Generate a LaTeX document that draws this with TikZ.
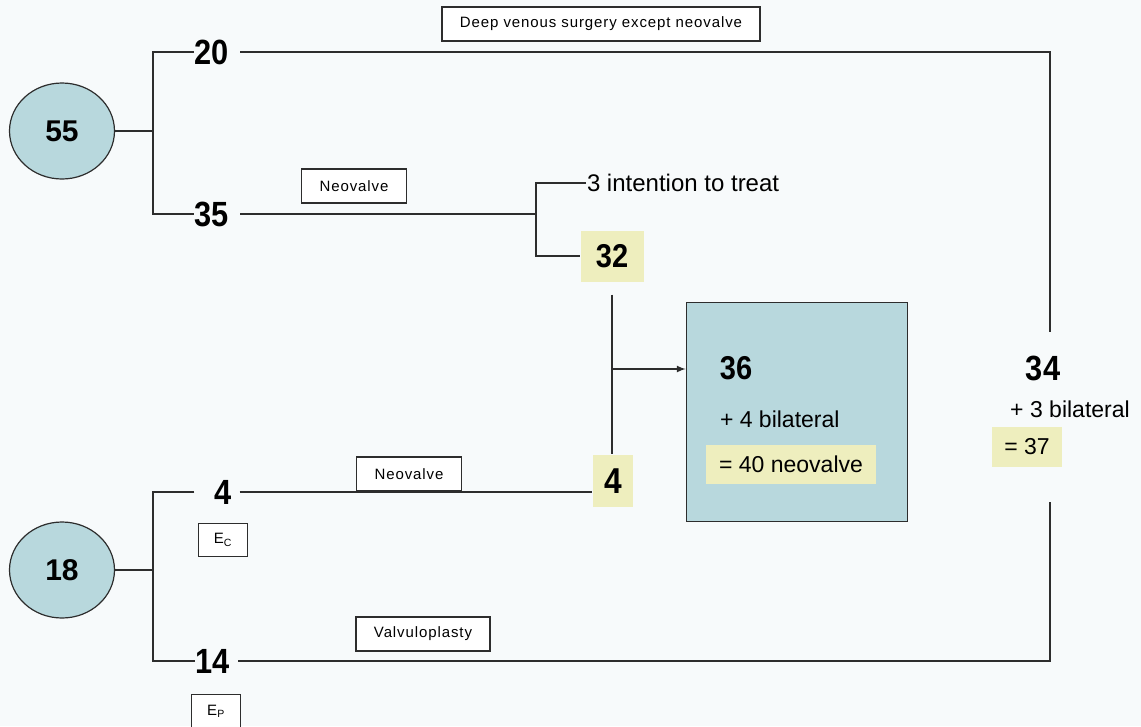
\documentclass[tikz,border=0pt]{standalone}
\usepackage{fontspec}
\setmainfont{Liberation Sans}
\newfontfamily\narrowfont[FakeStretch=0.88]{Liberation Sans}
\newfontfamily\labelfont[LetterSpace=6]{Liberation Sans}
\usepackage{xcolor}
\usetikzlibrary{positioning, arrows.meta, shapes.geometric}

\definecolor{bgwhite}{RGB}{247,250,251}
\definecolor{groupblue}{RGB}{184,216,221}
\definecolor{markyellow}{RGB}{238,238,190}
\definecolor{edgegray}{RGB}{45,45,45}

\tikzset{
  num/.style={inner sep=0pt, font=\narrowfont\bfseries\fontsize{35}{40}\selectfont},
  group/.style={ellipse, draw=edgegray, line width=1.2pt, fill=groupblue,
    minimum width=105pt, minimum height=96pt, inner sep=0pt,
    font=\bfseries\fontsize{30}{36}\selectfont},
  lbl/.style={draw=edgegray, line width=1.3pt, fill=white, inner xsep=18pt,
    minimum height=34pt, inner ysep=0pt, font=\labelfont\fontsize{15}{18}\selectfont},
  hilite/.style={fill=markyellow, inner sep=0pt},
  txt/.style={inner sep=0pt, font=\fontsize{23}{28}\selectfont},
}

\begin{document}
\begin{tikzpicture}[x=1pt, y=-1pt, >=latex, line width=2pt, draw=edgegray]
  % Background
  \fill[bgwhite] (0,0) rectangle (1141,726);
  \useasboundingbox (0,0) rectangle (1141,726);
  % Groups
  \node[group] (c55) at (62,131) {55};
  \node[group] (c18) at (62,570) {18};
  \coordinate (j1) at (153,131);
  \coordinate (j2) at (153,570);
  % Branch numbers
  \node[num] (n20) at (212,52) {20};
  \node[num] (n35) at (212,214) {35};
  \node[num] (n4) at (223,492) {4};
  \node[num] (n14) at (213,661) {14};
  % Labels on the branches
  \node[lbl] (deep) at (601,24) {Deep venous surgery except neovalve};
  \node[lbl] (neo1) at (354,186) {Neovalve};
  \node[lbl] (neo2) at (409,474) {Neovalve};
  \node[lbl] (valvo) at (423,634) {Valvuloplasty};
  \node[lbl, inner xsep=0pt, minimum width=49pt, minimum height=33pt] (ec) at (223,540) {E\textsubscript{C}};
  \node[lbl, inner xsep=0pt, minimum width=49pt, minimum height=33pt] (ep) at (216,711) {E\textsubscript{P}};
  % Neovalve arm
  \coordinate (fork) at (536,214);
  \node[txt, anchor=west, font=\fontsize{24}{28}\selectfont] (itt) at (586,183) {3 intention to treat};
  \node[hilite, minimum width=63pt, minimum height=51pt, font=\narrowfont\bfseries\fontsize{33}{40}\selectfont] (n32) at (612,256) {32};
  \node[hilite, minimum width=40pt, minimum height=52pt, font=\narrowfont\bfseries\fontsize{36}{40}\selectfont] (n4b) at (613,481) {4};
  % Result box
  \node[draw=edgegray, fill=groupblue, line width=1.6pt, minimum width=221pt, minimum height=219pt] (n36) at (797,412) {};
  \node[num, font=\narrowfont\bfseries\fontsize{33}{40}\selectfont] (t36) at (736,368) {36};
  \node[txt, anchor=west] (bil4) at (719,419) {+ 4 bilateral};
  \node[hilite, minimum width=170pt, minimum height=39pt, font=\fontsize{23}{28}\selectfont] (eq40) at (791,464) {= 40 neovalve};
  % Right column
  \node[num, font=\narrowfont\bfseries\fontsize{35}{40}\selectfont] (n34) at (1043,368) {34};
  \node[txt] (bil3) at (1070,409) {+ 3 bilateral};
  \node[hilite, minimum width=70pt, minimum height=40pt, font=\fontsize{23}{28}\selectfont] (eq37) at (1027,447) {= 37};
  \coordinate (tr) at (1050,52);
  \coordinate (rt) at (1050,332);
  \coordinate (br) at (1050,661);
  \coordinate (rb) at (1050,502);
  % Connectors
  \draw (c55.east) -- (j1);
  \draw (n20.west) -| (j1) |- (n35.west);
  \draw[shorten <=10pt] (n20.east) -- (tr) -- (rt);
  \draw[shorten <=10pt] (n35.east) -- (fork);
  \draw[line width=1.6pt] (itt.west) -| (fork) |- (n32.west);
  \draw (c18.east) -- (j2);
  \draw ([xshift=-19pt]n4.west) -| (j2) |- (n14.west);
  \draw[shorten <=7pt] (n4.east) -- (n4.east -| n4b.west);
  \draw[shorten <=7pt] (n14.east) -- (br) -- (rb);
  \draw[shorten <=12pt] (n32.south) -- (n32.south |- n4b.north);
  \coordinate (jarrow) at (612,369);
  \draw[->] (jarrow) -- (jarrow -| n36.west);
\end{tikzpicture}
\end{document}
